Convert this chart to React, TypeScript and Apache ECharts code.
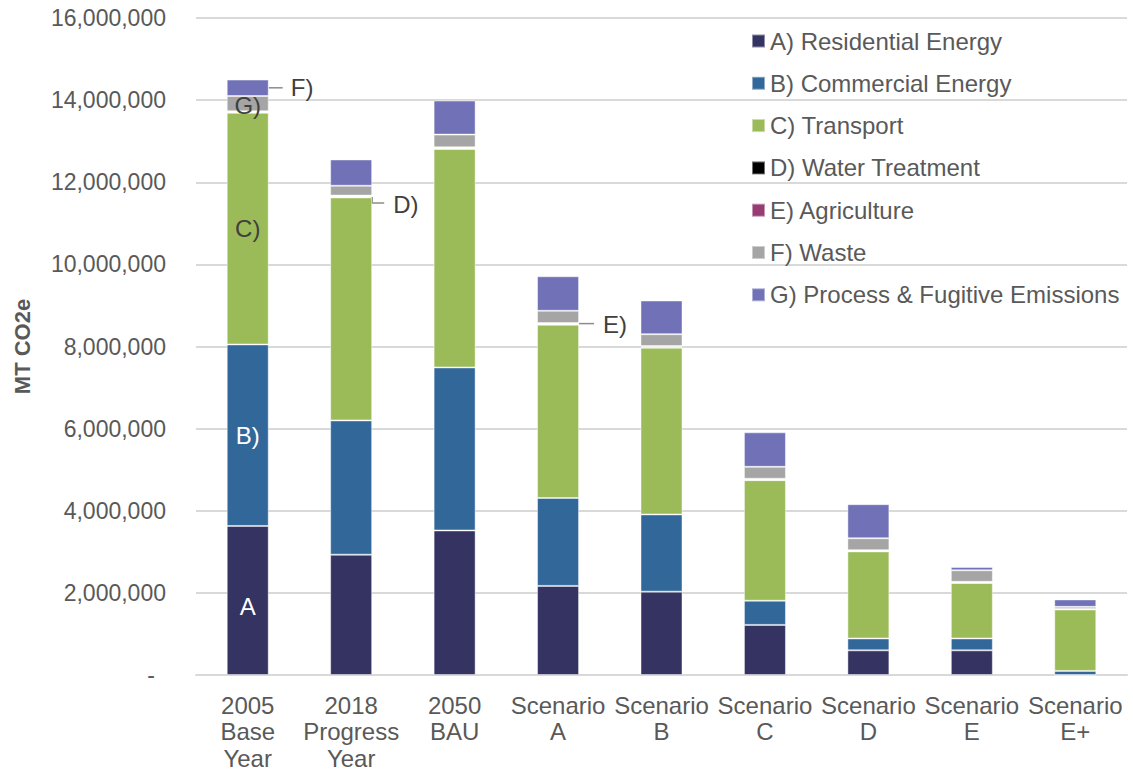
import React, { useEffect, useRef } from "react";
import * as echarts from "echarts";

const categories = [
  "2005\nBase\nYear",
  "2018\nProgress\nYear",
  "2050\nBAU",
  "Scenario\nA",
  "Scenario\nB",
  "Scenario\nC",
  "Scenario\nD",
  "Scenario\nE",
  "Scenario\nE+",
];

const seriesNames = [
  "A) Residential Energy",
  "B) Commercial Energy",
  "C) Transport",
  "D) Water Treatment",
  "E) Agriculture",
  "F) Waste",
  "G) Process & Fugitive Emissions",
];

const residential = [3630000, 2930000, 3520000, 2170000, 2030000, 1220000, 600000, 600000, 0];
const commercial = [4420000, 3270000, 3970000, 2140000, 1880000, 590000, 290000, 290000, 100000];
const transport = [5640000, 5430000, 5320000, 4220000, 4060000, 2935000, 2120000, 1350000, 1495000];
const water = [15000, 20000, 15000, 15000, 15000, 10000, 10000, 10000, 5000];
const agriculture = [25000, 25000, 25000, 25000, 25000, 25000, 20000, 20000, 10000];
const waste = [370000, 240000, 310000, 300000, 290000, 290000, 290000, 280000, 50000];
const process = [400000, 640000, 830000, 840000, 820000, 840000, 830000, 80000, 180000];

const yTicks = { min: 0, max: 16000000, interval: 2000000 };

const colors = ["#343362", "#32679A", "#9BBB59", "#000000", "#963C73", "#A5A5A5", "#7171B7"];

const FONT = "'Liberation Sans', Arial, sans-serif";
const TEXT = "#595959";
const DARK = "#404040";

export default function App() {
  const ref = useRef<HTMLDivElement>(null);

  useEffect(() => {
    if (!ref.current) return;
    const chart = echarts.init(ref.current, undefined, { renderer: "svg" });
    const values = [residential, commercial, transport, water, agriculture, waste, process];

    const labelBase = { fontFamily: FONT, fontSize: 24, color: DARK };

    const mkData = (si: number) =>
      values[si].map((v, i) => {
        const item: any = { value: v };
        if (si === 0 && i === 0)
          item.label = { show: true, position: "inside", formatter: "A", ...labelBase, color: "#ffffff", offset: [0, 6] };
        if (si === 1 && i === 0)
          item.label = { show: true, position: "inside", formatter: "B)", ...labelBase, color: "#ffffff" };
        if (si === 2 && i === 0)
          item.label = { show: true, position: "inside", formatter: "C)", ...labelBase };
        if (si === 3 && i === 1)
          item.label = { show: true, position: "right", distance: 21, offset: [0, 7], formatter: "D)", ...labelBase };
        if (si === 4 && i === 3)
          item.label = { show: true, position: "right", distance: 24, offset: [0, 1], formatter: "E)", ...labelBase };
        if (si === 5 && i === 0)
          item.label = { show: true, position: "inside", formatter: "G)", ...labelBase, offset: [0, 2] };
        if (si === 6 && i === 0)
          item.label = { show: true, position: "right", distance: 22, offset: [0, 0], formatter: "F)", ...labelBase };
        return item;
      });

    const option: any = {
      animation: false,
      backgroundColor: "#ffffff",
      textStyle: { fontFamily: FONT },
      grid: { left: 196, right: 6, top: 18, bottom: 99, containLabel: false },
      legend: {
        orient: "vertical",
        left: 751,
        top: 29,
        padding: 0,
        itemWidth: 13,
        itemHeight: 13,
        itemGap: 18.3,
        icon: "rect",
        textStyle: { fontFamily: FONT, fontSize: 24, color: TEXT, lineHeight: 24 },
        data: seriesNames,
      },
      xAxis: {
        type: "category",
        data: categories,
        axisLine: { show: true, lineStyle: { color: "#D9D9D9", width: 2 } },
        axisTick: { show: false },
        axisLabel: {
          fontFamily: FONT,
          fontSize: 24,
          lineHeight: 26.5,
          color: TEXT,
          margin: 17,
          interval: 0,
        },
      },
      yAxis: {
        type: "value",
        min: yTicks.min,
        max: yTicks.max,
        interval: yTicks.interval,
        name: "MT CO2e",
        nameLocation: "middle",
        nameRotate: 90,
        nameGap: 163,
        nameTextStyle: { fontFamily: FONT, fontSize: 22, fontWeight: "bold", color: TEXT },
        axisLine: { show: false },
        axisTick: { show: false },
        splitLine: { lineStyle: { color: "#D9D9D9", width: 2 } },
        axisLabel: {
          fontFamily: FONT,
          fontSize: 23,
          color: TEXT,
          margin: 30,
          formatter: (v: number) => (v === 0 ? "{z|-}" : v.toLocaleString("en-US")),
          rich: { z: { fontFamily: FONT, fontSize: 23, color: TEXT, padding: [0, 11, 0, 0] } },
        },
      },
      series: seriesNames.map((name, si) => ({
        name,
        type: "bar",
        stack: "total",
        barWidth: 42,
        itemStyle: { color: colors[si], borderColor: "rgba(255,255,255,0.45)", borderWidth: 1 },
        emphasis: { disabled: true },
        data: mkData(si),
      })),
    };

    chart.setOption(option);

    // Leader lines computed from the chart's own scales
    const cum = (upTo: number, idx: number) => {
      let s = 0;
      for (let k = 0; k < upTo; k++) s += values[k][idx];
      return s;
    };
    const px = (idx: number, v: number) => chart.convertToPixel({ xAxisIndex: 0, yAxisIndex: 0 }, [idx, v]) as number[];
    const half = 21;
    const lineStyle = { stroke: "#8C8C8C", lineWidth: 1.5 };

    const gMid = px(0, cum(6, 0) + values[6][0] / 2);
    const dMid = px(1, cum(3, 1) + values[3][1] / 2);
    const eMid = px(3, cum(4, 3) + values[4][3] / 2);

    chart.setOption({
      graphic: [
        { type: "line", shape: { x1: gMid[0] + half, y1: gMid[1], x2: gMid[0] + half + 14, y2: gMid[1] }, style: lineStyle, silent: true },
        {
          type: "polyline",
          shape: { points: [[dMid[0] + half, dMid[1]], [dMid[0] + half, dMid[1] + 6], [dMid[0] + half + 12, dMid[1] + 6]] },
          style: { ...lineStyle, fill: "none" },
          silent: true,
        },
        { type: "line", shape: { x1: eMid[0] + half, y1: eMid[1], x2: eMid[0] + half + 15, y2: eMid[1] }, style: lineStyle, silent: true },
      ],
    });

    return () => chart.dispose();
  }, []);

  return <div ref={ref} style={{ position: "fixed", left: 0, top: 0, width: 1133, height: 774, background: "#fff" }} />;
}
